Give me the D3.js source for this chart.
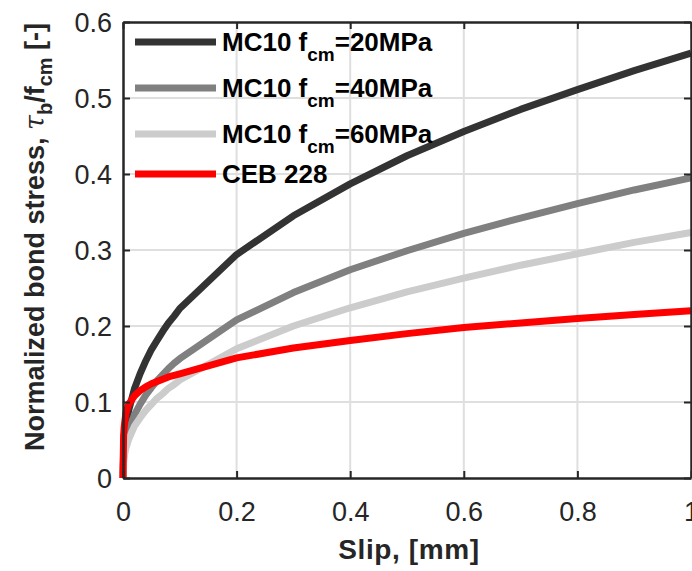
<!DOCTYPE html>
<html>
<head>
<meta charset="utf-8">
<script src="https://cdn.jsdelivr.net/npm/d3@7/dist/d3.min.js"></script>
<style>
  html, body { margin: 0; padding: 0; background: #fff; }
  svg { display: block; font-family: "Liberation Sans", Arial, Helvetica, sans-serif; }
</style>
</head>
<body>
<svg id="chart" width="692" height="571"></svg>
<script>
// ---- Data ----
const slip    = [0, 0.001, 0.002, 0.003, 0.005, 0.01, 0.02, 0.03, 0.04, 0.05, 0.06, 0.07, 0.08, 0.09, 0.1, 0.2, 0.3, 0.4, 0.5, 0.6, 0.7, 0.8, 0.9, 1.0];
const mc10_20 = [0, 0.035, 0.047, 0.055, 0.067, 0.089, 0.117, 0.137, 0.154, 0.169, 0.181, 0.193, 0.204, 0.213, 0.223, 0.294, 0.345, 0.387, 0.424, 0.456, 0.485, 0.511, 0.536, 0.559];
const mc10_40 = [0, 0.025, 0.033, 0.039, 0.047, 0.063, 0.083, 0.097, 0.109, 0.119, 0.128, 0.136, 0.144, 0.151, 0.157, 0.208, 0.244, 0.274, 0.299, 0.322, 0.342, 0.361, 0.379, 0.395];
const mc10_60 = [0, 0.020, 0.027, 0.032, 0.039, 0.051, 0.068, 0.079, 0.089, 0.097, 0.105, 0.111, 0.118, 0.123, 0.129, 0.170, 0.200, 0.224, 0.245, 0.263, 0.280, 0.295, 0.310, 0.323];
const ceb228  = [0, 0.055, 0.066, 0.073, 0.085, 0.097, 0.108, 0.115, 0.120, 0.124, 0.127, 0.130, 0.133, 0.135, 0.137, 0.158, 0.171, 0.181, 0.190, 0.198, 0.204, 0.210, 0.215, 0.220];
const xTicks = [0, 0.2, 0.4, 0.6, 0.8, 1];
const yTicks = [0, 0.1, 0.2, 0.3, 0.4, 0.5, 0.6];
const legendFc = ["=20MPa", "=40MPa", "=60MPa", null];
const seriesColors = ["#333333", "#808080", "#cccccc", "#ff0000"];

const series = [
  { key: "MC10", fc: legendFc[0], values: mc10_20, color: seriesColors[0] },
  { key: "MC10", fc: legendFc[1], values: mc10_40, color: seriesColors[1] },
  { key: "MC10", fc: legendFc[2], values: mc10_60, color: seriesColors[2] },
  { key: "CEB 228", fc: legendFc[3], values: ceb228, color: seriesColors[3] }
];

// ---- Layout ----
const svg = d3.select("#chart");
const L = 123, R = 691, T = 22, B = 478;
const x = d3.scaleLinear().domain([0, 1]).range([L, R]);
const y = d3.scaleLinear().domain([0, 0.6]).range([B, T]);
const axisColor = "#262626";
const fmt = d => (d === 0 ? "0" : d === 1 ? "1" : d3.format(".1f")(d));

// grid
const grid = svg.append("g");
grid.selectAll(".gx").data(xTicks.filter(d => d > 0 && d < 1)).join("line")
  .attr("x1", d => x(d)).attr("x2", d => x(d)).attr("y1", T).attr("y2", B)
  .attr("stroke", "#dfdfdf").attr("stroke-width", 2);
grid.selectAll(".gy").data(yTicks.filter(d => d > 0 && d < 0.6)).join("line")
  .attr("y1", d => y(d)).attr("y2", d => y(d)).attr("x1", L).attr("x2", R)
  .attr("stroke", "#dfdfdf").attr("stroke-width", 2);

// lines
const line = d3.line().x((d, i) => x(slip[i])).y(d => y(d));
const plot = svg.append("g");
series.forEach(s => {
  plot.append("path").datum(s.values)
    .attr("d", line)
    .attr("fill", "none")
    .attr("stroke", s.color)
    .attr("stroke-width", 7)
    .attr("stroke-linejoin", "round");
});

// axes (ticks inward, box)
const xb = svg.append("g").attr("transform", `translate(0,${B})`)
  .call(d3.axisBottom(x).tickValues(xTicks).tickFormat(fmt).tickSizeInner(-7).tickSizeOuter(0).tickPadding(24));
const yl = svg.append("g").attr("transform", `translate(${L},0)`)
  .call(d3.axisLeft(y).tickValues(yTicks).tickFormat(fmt).tickSizeInner(-7).tickSizeOuter(0).tickPadding(11));
const xt = svg.append("g").attr("transform", `translate(0,${T})`)
  .call(d3.axisTop(x).tickValues(xTicks).tickFormat("").tickSizeInner(-7).tickSizeOuter(0));
const yr = svg.append("g").attr("transform", `translate(${R},0)`)
  .call(d3.axisRight(y).tickValues(yTicks).tickFormat("").tickSizeInner(-7).tickSizeOuter(0));
[xb, yl, xt, yr].forEach(g => {
  g.select(".domain").attr("stroke", axisColor).attr("stroke-width", 2.5);
  g.selectAll(".tick line").attr("stroke", axisColor).attr("stroke-width", 2);
  g.selectAll(".tick text").attr("fill", axisColor).attr("font-size", 27)
    .attr("font-family", "'Liberation Sans', Arial, sans-serif");
});
xb.selectAll(".tick text").attr("dy", "0.71em");
yl.selectAll(".tick text").attr("dy", "0.36em");

// axis labels
svg.append("text")
  .attr("x", (L + R) / 2 + 2).attr("y", 559)
  .attr("text-anchor", "middle").attr("font-size", 28).attr("font-weight", "bold")
  .attr("letter-spacing", 0.6)
  .attr("fill", axisColor).text("Slip, [mm]");

const yLab = svg.append("text")
  .attr("transform", `translate(44,${237}) rotate(-90)`)
  .attr("text-anchor", "middle").attr("font-size", 27).attr("font-weight", "bold")
  .attr("fill", axisColor);
yLab.append("tspan").text("Normalized bond stress, ");
yLab.append("tspan").attr("font-style", "italic").attr("font-weight", "normal")
  .attr("font-family", "'DejaVu Serif', serif").text("τ");
yLab.append("tspan").attr("font-size", 20).attr("dy", 8).text("b");
yLab.append("tspan").attr("dy", -8).text("/f");
yLab.append("tspan").attr("font-size", 20).attr("dy", 8).text("cm");
yLab.append("tspan").attr("dy", -8).text(" [-]");

// legend
const legY = [42, 88, 134, 174];
const leg = svg.append("g");
series.forEach((s, i) => {
  leg.append("line").attr("x1", 135).attr("x2", 216).attr("y1", legY[i]).attr("y2", legY[i])
    .attr("stroke", s.color).attr("stroke-width", 7);
  const t = leg.append("text").attr("x", 222).attr("y", legY[i] + 9)
    .attr("font-size", 26).attr("font-weight", "bold").attr("fill", "#000");
  if (s.fc) {
    t.append("tspan").text(s.key + " f");
    t.append("tspan").attr("font-size", 19).attr("dy", 10).text("cm");
    t.append("tspan").attr("dy", -10).text(s.fc);
  } else {
    t.text(s.key);
  }
});
</script>
</body>
</html>
